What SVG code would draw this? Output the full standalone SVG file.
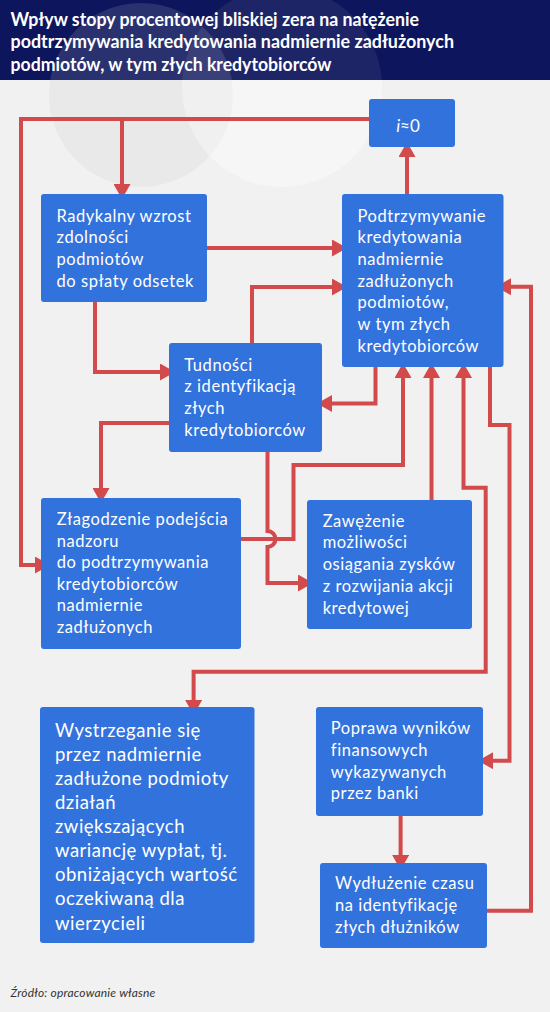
<svg xmlns="http://www.w3.org/2000/svg" width="550" height="1012" viewBox="0 0 550 1012">
<style>
.box{fill:#3272dc}
.t{font-family:Lato,"Noto Sans","Liberation Sans",sans-serif;font-size:16.5px;letter-spacing:0.55px;fill:#ffffff}
.big{font-size:18.5px;letter-spacing:0.5px}
.c{fill:none;stroke:#d34a4d;stroke-width:4}
.title{font-family:Lato,"Noto Sans","Liberation Sans",sans-serif;font-size:18.5px;font-weight:bold;fill:#ffffff}
.src{font-family:Lato,"Noto Sans","Liberation Sans",sans-serif;font-size:12px;letter-spacing:0.2px;font-style:italic;fill:#333333}
</style>
<defs>
<marker id="ah" viewBox="0 0 15 17" refX="0" refY="8.5" markerWidth="15" markerHeight="17" markerUnits="userSpaceOnUse" orient="auto-start-reverse">
<path d="M0,0 L15,8.5 L0,17 Z" fill="#d34a4d"/>
</marker>
<clipPath id="hdr"><rect x="0" y="0" width="550" height="80"/></clipPath>
<clipPath id="body"><rect x="0" y="80" width="550" height="932"/></clipPath>
</defs>
<rect x="0" y="0" width="550" height="1012" fill="#f1f1f1"/>
<g id="watermark">
<g clip-path="url(#body)">
<circle cx="141" cy="95" r="92" fill="#000" opacity="0.03"/>
<circle cx="282" cy="87" r="100" fill="#fff" opacity="0.35"/>
</g>
</g>
<g id="header">
<rect x="0" y="0" width="550" height="80" fill="#0d155c"/>
<g clip-path="url(#hdr)">
<circle cx="141" cy="95" r="92" fill="#fff" opacity="0.12"/>
<circle cx="282" cy="87" r="100" fill="#fff" opacity="0.07"/>
</g>
<text class="title"><tspan x="10.5" y="26" textLength="408.5" lengthAdjust="spacingAndGlyphs">Wpływ stopy procentowej bliskiej zera na natężenie</tspan></text>
<text class="title"><tspan x="10.5" y="48.3" textLength="443.5" lengthAdjust="spacingAndGlyphs">podtrzymywania kredytowania nadmiernie zadłużonych</tspan></text>
<text class="title"><tspan x="10.5" y="70.6" textLength="321" lengthAdjust="spacingAndGlyphs">podmiotów, w tym złych kredytobiorców</tspan></text>
</g>
<g id="connectors">
<path class="c" d="M369,119 H21 V565 H35" marker-end="url(#ah)"/>
<path class="c" d="M122,119 V184" marker-end="url(#ah)"/>
<path class="c" d="M207,248 H332" marker-end="url(#ah)"/>
<path class="c" d="M95,302 V372 H160" marker-end="url(#ah)"/>
<path class="c" d="M252,343 V287 H332" marker-end="url(#ah)"/>
<path class="c" d="M407,194 V157" marker-end="url(#ah)"/>
<path class="c" d="M375.5,367 V403.5 H332" marker-end="url(#ah)"/>
<path class="c" d="M169,423 H101 V488" marker-end="url(#ah)"/>
<path class="c" d="M241,539 H293.5 V465 H403 V378" marker-end="url(#ah)"/>
<path class="c" d="M267.5,452 V531 A8,8 0 0 1 267.5,547 V583 H298" marker-end="url(#ah)"/>
<path class="c" d="M431.5,500 V378" marker-end="url(#ah)"/>
<path class="c" d="M463.5,378 V487.7 H485.7 V671.7 H193.6 V700" marker-start="url(#ah)" marker-end="url(#ah)"/>
<path class="c" d="M490,367 V425 H509.5 V760.7 H493" marker-end="url(#ah)"/>
<path class="c" d="M400.6,816 V855" marker-end="url(#ah)"/>
<path class="c" d="M487,910.7 H531 V286.7 H511" marker-end="url(#ah)"/>
</g>
<g id="node-i0">
<rect class="box" x="369" y="99" width="86" height="48" rx="3"/>
<text class="t" x="408" y="132" text-anchor="middle" style="font-size:17px;letter-spacing:0"><tspan font-style="italic">i</tspan>≈0</text>
</g>
<g id="node-radykalny">
<rect class="box" x="41" y="194" width="166" height="108" rx="3"/>
<text class="t"><tspan x="56.5" y="221.5">Radykalny wzrost</tspan><tspan x="56.5" y="243.2">zdolności</tspan><tspan x="56.5" y="264.9">podmiotów</tspan><tspan x="56.5" y="286.6">do spłaty odsetek</tspan></text>
</g>
<g id="node-podtrzymywanie">
<rect class="box" x="342" y="194" width="161.5" height="173" rx="3"/>
<text class="t"><tspan x="357.5" y="221.7">Podtrzymywanie</tspan><tspan x="357.5" y="243.3">kredytowania</tspan><tspan x="357.5" y="265">nadmiernie</tspan><tspan x="357.5" y="286.7">zadłużonych</tspan><tspan x="357.5" y="308.3">podmiotów,</tspan><tspan x="357.5" y="330">w tym złych</tspan><tspan x="357.5" y="351.7">kredytobiorców</tspan></text>
</g>
<g id="node-tudnosci">
<rect class="box" x="169" y="343" width="153" height="109" rx="3"/>
<text class="t"><tspan x="184.3" y="370.7">Tudności</tspan><tspan x="184.3" y="392.4">z identyfikacją</tspan><tspan x="184.3" y="414.1">złych</tspan><tspan x="184.3" y="435.8">kredytobiorców</tspan></text>
</g>
<g id="node-zlagodzenie">
<rect class="box" x="41" y="498" width="200" height="151" rx="3"/>
<text class="t"><tspan x="56.7" y="525">Złagodzenie podejścia</tspan><tspan x="56.7" y="546.5">nadzoru</tspan><tspan x="56.7" y="568">do podtrzymywania</tspan><tspan x="56.7" y="589.5">kredytobiorców</tspan><tspan x="56.7" y="611">nadmiernie</tspan><tspan x="56.7" y="632.5">zadłużonych</tspan></text>
</g>
<g id="node-zawezenie">
<rect class="box" x="307" y="500" width="165" height="129" rx="3"/>
<text class="t"><tspan x="322.7" y="526.7">Zawężenie</tspan><tspan x="322.7" y="548.4">możliwości</tspan><tspan x="322.7" y="570.1">osiągania zysków</tspan><tspan x="322.7" y="591.8">z rozwijania akcji</tspan><tspan x="322.7" y="613.5">kredytowej</tspan></text>
</g>
<g id="node-wystrzeganie">
<rect class="box" x="40" y="707" width="214.5" height="236" rx="3"/>
<text class="t big"><tspan x="55" y="736.7">Wystrzeganie się</tspan><tspan x="55" y="760.8">przez nadmiernie</tspan><tspan x="55" y="784.9">zadłużone podmioty</tspan><tspan x="55" y="809">działań</tspan><tspan x="55" y="833.1">zwiększających</tspan><tspan x="55" y="857.2">wariancję wypłat, tj.</tspan><tspan x="55" y="881.3">obniżających wartość</tspan><tspan x="55" y="905.4">oczekiwaną dla</tspan><tspan x="55" y="929.5">wierzycieli</tspan></text>
</g>
<g id="node-poprawa">
<rect class="box" x="316" y="707" width="167" height="109" rx="3"/>
<text class="t"><tspan x="330.8" y="734.3">Poprawa wyników</tspan><tspan x="330.8" y="756">finansowych</tspan><tspan x="330.8" y="777.7">wykazywanych</tspan><tspan x="330.8" y="799.4">przez banki</tspan></text>
</g>
<g id="node-wydluzenie">
<rect class="box" x="320" y="863" width="167" height="85" rx="3"/>
<text class="t"><tspan x="335" y="889.3">Wydłużenie czasu</tspan><tspan x="335" y="911">na identyfikację</tspan><tspan x="335" y="932.7">złych dłużników</tspan></text>
</g>
<g id="source">
<text class="src" x="10.5" y="997">Źródło: opracowanie własne</text>
</g>
</svg>
